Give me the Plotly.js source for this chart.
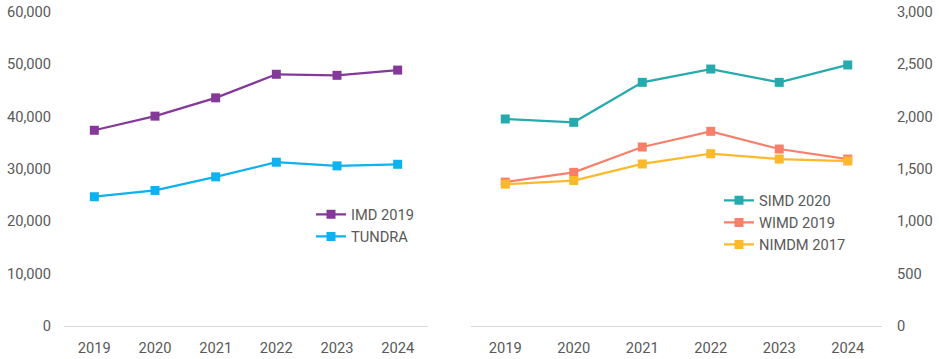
<!DOCTYPE html>
<html>
<head>
<meta charset="utf-8">
<script src="https://cdn.plot.ly/plotly-3.0.1.min.js"></script>
<style>html,body{margin:0;padding:0;background:#fff;}#chart{width:939px;height:359px;}</style>
</head>
<body>
<div id="chart"></div>
<script>
const years = ["2019", "2020", "2021", "2022", "2023", "2024"];
const imd2019 = [37400, 40100, 43600, 48100, 47900, 48900];
const tundra = [24700, 25900, 28500, 31300, 30600, 30900];
const simd2020 = [1978, 1946, 2328, 2455, 2328, 2494];
const wimd2019 = [1375, 1468, 1710, 1860, 1691, 1595];
const nimdm2017 = [1355, 1390, 1548, 1646, 1595, 1576];

const leftTicks = [0, 10000, 20000, 30000, 40000, 50000, 60000];
const rightTicks = [0, 500, 1000, 1500, 2000, 2500, 3000];

function tr(name, y, color, xa, ya, legend) {
  return {
    type: 'scatter', mode: 'lines+markers', name: name, x: years, y: y,
    xaxis: xa, yaxis: ya, legend: legend,
    line: {color: color, width: 2.25},
    marker: {symbol: 'square', size: 9, color: color}
  };
}

const data = [
  tr('IMD 2019', imd2019, '#84399A', 'x', 'y', 'legend'),
  tr('TUNDRA', tundra, '#0DB2EF', 'x', 'y', 'legend'),
  tr('SIMD 2020', simd2020, '#26ABAD', 'x2', 'y2', 'legend2'),
  tr('WIMD 2019', wimd2019, '#F8806B', 'x2', 'y2', 'legend2'),
  tr('NIMDM 2017', nimdm2017, '#FDB92C', 'x2', 'y2', 'legend2')
];

const font = {family: 'Roboto, sans-serif', size: 14.67, color: '#595959'};
const W = 939;
function fmt(v) { return v.toLocaleString('en-US'); }

const layout = {
  width: 939, height: 359,
  margin: {l: 0, r: 0, t: 12, b: 33},
  paper_bgcolor: '#fff', plot_bgcolor: '#fff',
  font: font,
  showlegend: true,
  xaxis: {
    domain: [64 / W, 428 / W], anchor: 'y', type: 'category',
    range: [-0.5, 5.5], showgrid: false, zeroline: false,
    showline: true, linecolor: '#D9D9D9', linewidth: 1,
    ticks: '', ticklabelstandoff: 8, tickfont: font, fixedrange: true
  },
  yaxis: {
    domain: [0, 1], anchor: 'x', range: [0, 60000],
    tickvals: leftTicks, ticktext: leftTicks.map(fmt),
    showgrid: false, zeroline: false, showline: false,
    ticks: '', ticklabelstandoff: 12, tickfont: font, fixedrange: true
  },
  xaxis2: {
    domain: [471 / W, 882 / W], anchor: 'y2', type: 'category',
    range: [-0.5, 5.5], showgrid: false, zeroline: false,
    showline: true, linecolor: '#D9D9D9', linewidth: 1,
    ticks: '', ticklabelstandoff: 8, tickfont: font, fixedrange: true
  },
  yaxis2: {
    domain: [0, 1], anchor: 'x2', side: 'right', range: [0, 3000],
    tickvals: rightTicks, ticktext: rightTicks.map(fmt),
    showgrid: false, zeroline: false, showline: false,
    ticks: '', ticklabelstandoff: 14, tickfont: font, fixedrange: true
  },
  legend: {
    x: 311 / W, y: 1 - 213 / 359, xanchor: 'left', yanchor: 'top',
    bgcolor: 'rgba(0,0,0,0)', font: font, itemwidth: 30,
    tracegroupgap: 0, traceorder: 'normal'
  },
  legend2: {
    x: 719 / W, y: 1 - 197 / 359, xanchor: 'left', yanchor: 'top',
    bgcolor: 'rgba(0,0,0,0)', font: font, itemwidth: 30,
    tracegroupgap: 0, traceorder: 'normal'
  }
};

Plotly.newPlot('chart', data, layout, {displayModeBar: false, staticPlot: true});
</script>
</body>
</html>
